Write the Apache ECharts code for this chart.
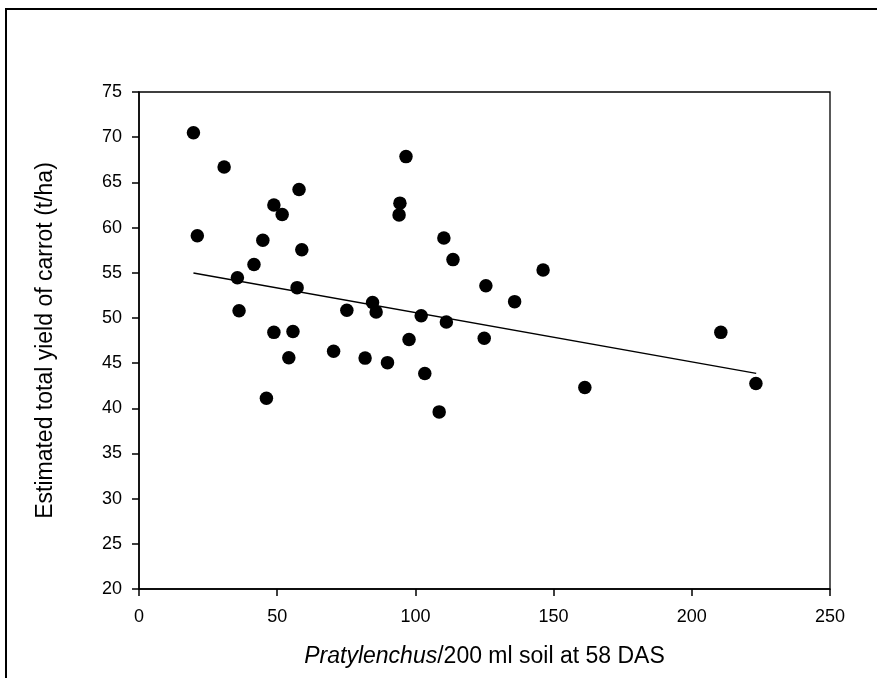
<!DOCTYPE html>
<html>
<head>
<meta charset="utf-8">
<script src="https://cdn.jsdelivr.net/npm/echarts@6/dist/echarts.min.js"></script>
<style>
html,body{margin:0;padding:0;background:#fff;}
#chart{width:877px;height:678px;}
</style>
</head>
<body>
<div id="chart"></div>
<script>
// Nematode density (x) and estimated yield (y)
const nematodes = [19.7, 21.1, 30.8, 35.6, 36.2, 41.6, 44.8, 46.1, 48.8, 48.8, 51.8, 54.2, 55.7, 57.2, 57.9, 58.9, 70.4, 75.2, 81.8, 84.5, 85.8, 89.9, 94.1, 94.4, 96.6, 97.7, 102.1, 103.4, 108.6, 110.3, 111.2, 113.6, 124.9, 125.5, 135.9, 146.2, 161.3, 210.5, 223.2];
const yields    = [70.5, 59.1, 66.7, 54.45, 50.8, 55.9, 58.6, 41.1, 62.5, 48.4, 61.45, 45.6, 48.5, 53.35, 64.2, 57.55, 46.3, 50.85, 45.55, 51.7, 50.65, 45.05, 61.4, 62.7, 67.85, 47.6, 50.25, 43.85, 39.6, 58.85, 49.55, 56.45, 47.75, 53.55, 51.8, 55.3, 42.3, 48.4, 42.75];
// Fitted regression line end points
const trendX = [19.7, 223.3];
const trendY = [54.97, 43.86];
const xTicks = [0, 50, 100, 150, 200, 250];
const yTicks = [20, 25, 30, 35, 40, 45, 50, 55, 60, 65, 70, 75];

const FONT = "'Liberation Sans', Arial, sans-serif";
const chart = echarts.init(document.getElementById('chart'), null, {renderer: 'canvas'});
chart.setOption({
  animation: false,
  backgroundColor: '#fff',
  graphic: [{
    type: 'rect', shape: {x: 6, y: 9, width: 900, height: 700},
    style: {fill: 'none', stroke: '#000', lineWidth: 2}, z: 100
  }],
  grid: {left: 139, top: 92, width: 691, height: 497, show: true, borderColor: '#000', borderWidth: 1.3, backgroundColor: 'transparent'},
  xAxis: {
    type: 'value', min: xTicks[0], max: xTicks[xTicks.length - 1], interval: 50,
    axisLine: {lineStyle: {color: '#000', width: 1.5}},
    axisTick: {show: true, length: 7, lineStyle: {color: '#000', width: 1.5}},
    splitLine: {show: false},
    axisLabel: {color: '#000', fontSize: 18, fontFamily: FONT, margin: 19},
    name: '{i|Pratylenchus}{n|/200 ml soil at 58 DAS}',
    nameLocation: 'middle', nameGap: 56,
    nameTextStyle: {
      fontSize: 23, fontFamily: FONT, color: '#000',
      rich: {
        i: {fontStyle: 'italic', fontSize: 23, fontFamily: FONT, color: '#000'},
        n: {fontSize: 23, fontFamily: FONT, color: '#000'}
      }
    }
  },
  yAxis: {
    type: 'value', min: yTicks[0], max: yTicks[yTicks.length - 1], interval: 5,
    axisLine: {lineStyle: {color: '#000', width: 1.5}},
    axisTick: {show: true, length: 7, lineStyle: {color: '#000', width: 1.5}},
    splitLine: {show: false},
    axisLabel: {color: '#000', fontSize: 18, fontFamily: FONT, margin: 17},
    name: 'Estimated total yield of carrot (t/ha)',
    nameLocation: 'middle', nameGap: 82,
    nameTextStyle: {fontSize: 23, fontFamily: FONT, color: '#000'}
  },
  series: [
    {
      type: 'scatter',
      data: nematodes.map((x, i) => [x, yields[i]]),
      symbol: 'circle', symbolSize: 13.5,
      itemStyle: {color: '#000', opacity: 1}
    },
    {
      type: 'line',
      data: trendX.map((x, i) => [x, trendY[i]]),
      symbol: 'none',
      lineStyle: {color: '#000', width: 1.3}
    }
  ]
});
</script>
</body>
</html>
